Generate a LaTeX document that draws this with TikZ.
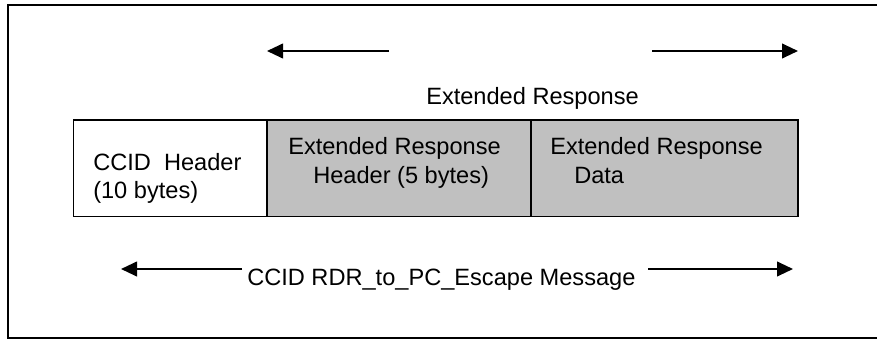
\documentclass[tikz,border=0pt]{standalone}
\usepackage{fontspec}
\setmainfont{Liberation Sans}
\usetikzlibrary{arrows.meta}
\begin{document}
\begin{tikzpicture}[x=0.75pt,y=-0.75pt,
  frame/.style={line width=1.5pt},
  cell/.style={draw, line width=1pt, rectangle, inner sep=0pt, minimum height=96.7*0.75pt},
  graycell/.style={cell, fill=gray75},
  lbl/.style={inner sep=0pt, anchor=base west, font=\fontsize{17.7}{21}\selectfont},
  arr/.style={line width=1.5pt, -{Triangle[length=12pt,width=11pt]}}]
\definecolor{gray75}{HTML}{C0C0C0}
\useasboundingbox (0,0) rectangle (877,339);
% outer frame (open on the right)
\draw[frame] (877,5) -- (7.5,5) -- (7.5,337.5) -- (877,337.5);
% cells
\node[cell, minimum width=193.5*0.75pt] (c1) at (170.25,168.35) {};
\node[graycell, minimum width=264*0.75pt] (c2) at (399,168.35) {};
\node[graycell, minimum width=267*0.75pt] (c3) at (664.5,168.35) {};
% cell texts
\node[lbl] (t1a) at (93,170) {CCID\ \ Header};
\node[lbl] (t1b) at (93,198) {(10 bytes)};
\node[lbl] (t2a) at (288,154) {Extended Response};
\node[lbl] (t2b) at (313,183) {Header (5 bytes)};
\node[lbl] (t3a) at (550,154) {Extended Response};
\node[lbl] (t3b) at (574,183) {Data};
% top label and arrows
\node[lbl] (top) at (426,104) {Extended Response};
\coordinate (tl0) at (389,51);
\coordinate (tl1) at (267,51);
\coordinate (tr0) at (652,51);
\coordinate (tr1) at (798,51);
\draw[arr] (tl0) -- (tl1);
\draw[arr] (tr0) -- (tr1);
% bottom label and arrows
\node[lbl] (bot) at (247,285) {CCID RDR\_to\_PC\_Escape Message};
\coordinate (bl0) at (242,269);
\coordinate (bl1) at (121,269);
\coordinate (br0) at (648,269);
\coordinate (br1) at (793,269);
\draw[arr] (bl0) -- (bl1);
\draw[arr] (br0) -- (br1);
\end{tikzpicture}
\end{document}
